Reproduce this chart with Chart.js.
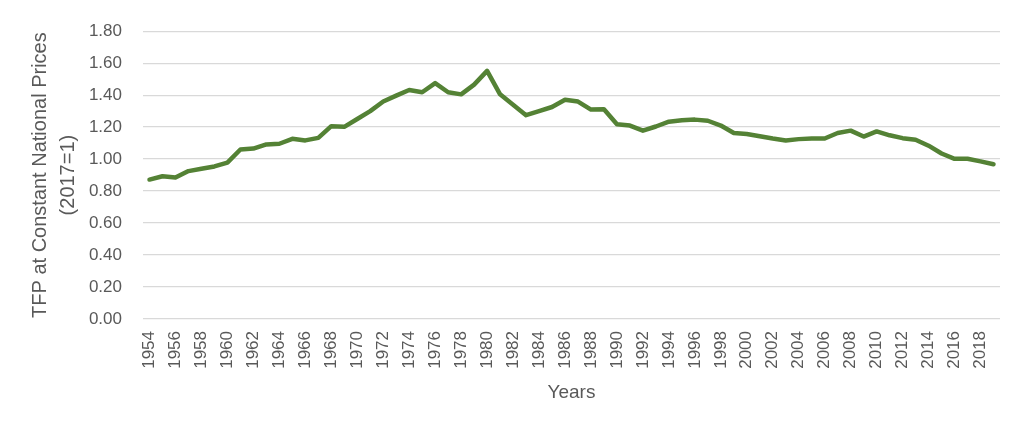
<!DOCTYPE html>
<html>
<head>
<meta charset="utf-8">
<script src="https://cdn.jsdelivr.net/npm/chart.js@4/dist/chart.umd.min.js"></script>
<style>
  html, body { margin: 0; padding: 0; background: #fff; }
  #wrap { width: 1024px; height: 434px; position: relative; }
</style>
</head>
<body>
<div id="wrap"><canvas id="tfpChart"></canvas></div>
<script>
// years 1954..2019
var years = [
  1954, 1955, 1956, 1957, 1958, 1959, 1960, 1961, 1962, 1963,
  1964, 1965, 1966, 1967, 1968, 1969, 1970, 1971, 1972, 1973,
  1974, 1975, 1976, 1977, 1978, 1979, 1980, 1981, 1982, 1983,
  1984, 1985, 1986, 1987, 1988, 1989, 1990, 1991, 1992, 1993,
  1994, 1995, 1996, 1997, 1998, 1999, 2000, 2001, 2002, 2003,
  2004, 2005, 2006, 2007, 2008, 2009, 2010, 2011, 2012, 2013,
  2014, 2015, 2016, 2017, 2018, 2019
];

// TFP at constant national prices (2017=1)
var tfp = [
  0.872, 0.893, 0.885, 0.925, 0.940, 0.954, 0.978, 1.060, 1.066, 1.092,
  1.096, 1.127, 1.117, 1.133, 1.206, 1.202, 1.251, 1.300, 1.360, 1.397,
  1.432, 1.418, 1.475, 1.418, 1.405, 1.466, 1.552, 1.405, 1.340, 1.275,
  1.300, 1.326, 1.371, 1.360, 1.310, 1.312, 1.218, 1.210, 1.178, 1.204,
  1.234, 1.243, 1.247, 1.240, 1.210, 1.163, 1.157, 1.143, 1.129, 1.117,
  1.125, 1.129, 1.129, 1.163, 1.178, 1.141, 1.173, 1.149, 1.131, 1.121,
  1.084, 1.035, 1.002, 1.002, 0.986, 0.968
];

var yTicks = [0, 0.2, 0.4, 0.6, 0.8, 1.0, 1.2, 1.4, 1.6, 1.8];

var grey = '#595959';
var fam = '"Liberation Sans", Arial, sans-serif';

var ctx = document.getElementById('tfpChart').getContext('2d');
var tfpChart = new Chart(ctx, {
  type: 'line',
  data: {
    labels: years.map(String),
    datasets: [{
      label: 'TFP',
      data: tfp,
      borderColor: '#548235',
      backgroundColor: '#548235',
      borderWidth: 4.5,
      pointRadius: 0,
      tension: 0,
      borderJoinStyle: 'round',
      borderCapStyle: 'round'
    }]
  },
  options: {
    responsive: true,
    maintainAspectRatio: false,
    animation: false,
    layout: { padding: { left: 0, right: 24, top: 24, bottom: 30 } },
    plugins: { legend: { display: false }, tooltip: { enabled: false } },
    scales: {
      x: {
        offset: true,
        grid: { display: false },
        border: { display: false },
        ticks: {
          autoSkip: false,
          minRotation: 90,
          maxRotation: 90,
          padding: 4,
          color: grey,
          font: { family: fam, size: 17 },
          callback: function (v, i) { return years[i] % 2 === 0 ? String(years[i]) : ''; }
        },
        title: {
          display: true,
          text: 'Years',
          color: grey,
          font: { family: fam, size: 19 },
          padding: { top: 0, bottom: 0 }
        },
        afterFit: function (scale) { scale.height = 85; }
      },
      y: {
        min: 0,
        max: 1.8,
        afterBuildTicks: function (scale) {
          scale.ticks = yTicks.map(function (v) { return { value: v }; });
        },
        grid: { color: '#d9d9d9', lineWidth: 1.3, drawTicks: false },
        border: { display: false },
        ticks: {
          padding: 21,
          color: grey,
          font: { family: fam, size: 17 },
          callback: function (v) { return Number(v).toFixed(2); }
        },
        title: {
          display: true,
          text: ['TFP at Constant National Prices', '(2017=1)'],
          color: grey,
          font: { family: fam, size: 20, lineHeight: 1.4 },
          padding: { top: 26, bottom: 0 }
        },
        afterFit: function (scale) { scale.width = 143; }
      }
    }
  }
});
</script>
</body>
</html>
